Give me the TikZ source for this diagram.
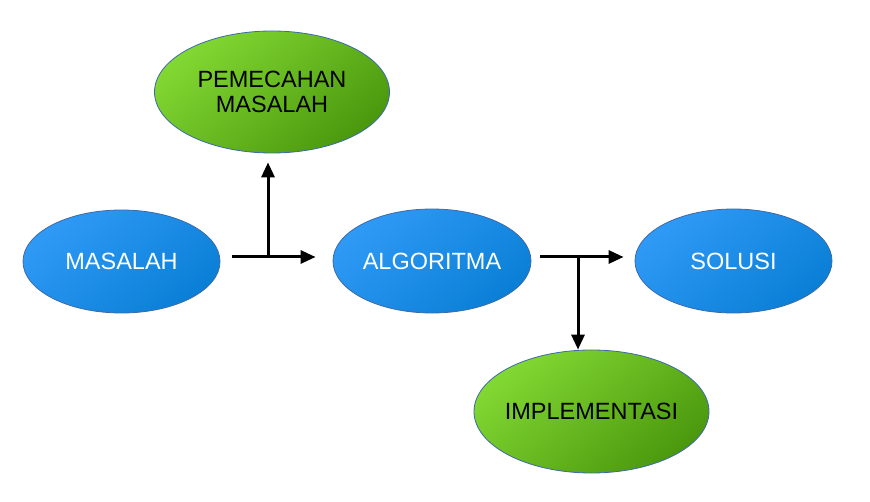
\documentclass[tikz,border=0pt]{standalone}
\usepackage{fontspec}
\setmainfont{Liberation Sans}
\usetikzlibrary{shapes.geometric,arrows.meta,calc}
\definecolor{bluelight}{HTML}{2F9AF6}
\definecolor{bluedark}{HTML}{0A7FD6}
\definecolor{greenlight}{HTML}{82D832}
\definecolor{greendark}{HTML}{4B980E}
\definecolor{rim}{HTML}{3C6AA8}
\tikzset{
  bubble/.style={ellipse, draw=rim, line width=0.8pt, inner sep=0pt, align=center,
    font=\fontsize{23.5}{25.5}\selectfont},
  bluebub/.style={bubble, top color=bluelight, bottom color=bluedark, shading angle=40, text=white},
  greenbub/.style={bubble, top color=greenlight, bottom color=greendark, shading angle=40, text=black},
  arr/.style={line width=3pt, -{Triangle[length=15pt,width=13pt]}}
}
\begin{document}
\begin{tikzpicture}[x=1pt,y=1pt]
\useasboundingbox[fill=white] (0,0) rectangle (870,501);
\node[greenbub, minimum width=235pt, minimum height=122pt] (pem) at (272,409) {PEMECAHAN\\MASALAH};
\node[bluebub, minimum width=197pt, minimum height=103pt] (mas) at (121.5,239.5) {MASALAH};
\node[bluebub, minimum width=198pt, minimum height=104pt] (alg) at (432,240) {ALGORITMA};
\node[bluebub, minimum width=197pt, minimum height=104pt] (sol) at (733.5,240) {SOLUSI};
\node[greenbub, inner xsep=-4pt, minimum width=235pt, minimum height=123pt] (imp) at (591.5,89.5) {IMPLEMENTASI};
\coordinate (j1) at (268,244);
\coordinate (j2) at (578,244);
\draw[arr] ($(mas.east)+(12,4.5)$) -- ($(alg.west)+(-17,4)$);
\draw[arr] (j1) -- ($(j1 |- pem.south)+(0,-9)$);
\draw[arr] ($(alg.east)+(9,4)$) -- ($(sol.west)+(-11,4)$);
\draw[arr] (j2) -- (j2 |- imp.north);
\end{tikzpicture}
\end{document}
